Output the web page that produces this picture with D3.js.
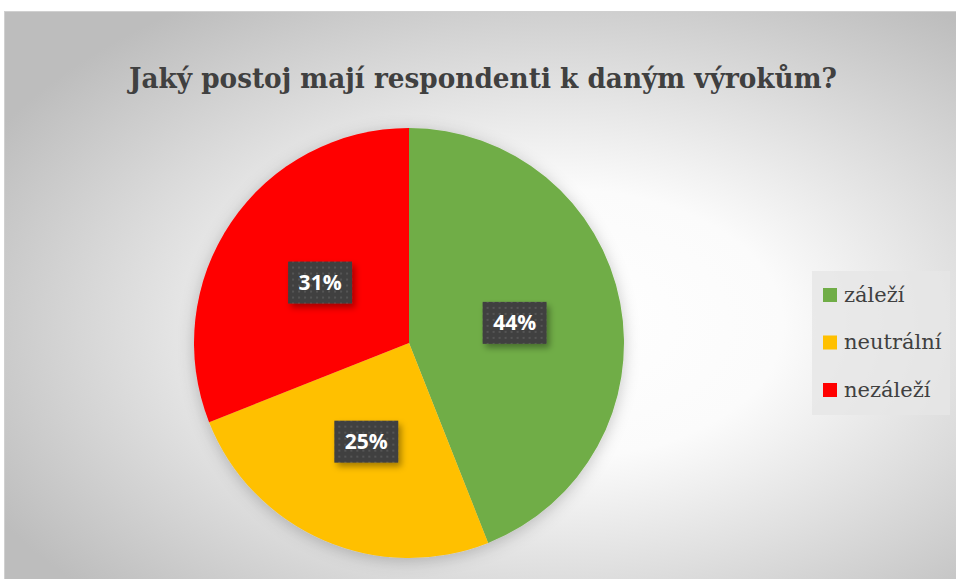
<!DOCTYPE html>
<html>
<head>
<meta charset="utf-8">
<script src="https://cdn.jsdelivr.net/npm/d3@7"></script>
<style>
  body { margin: 0; background: #fff; }
  svg { display: block; }
</style>
</head>
<body>
<div id="chart"></div>
<script>
var categories = ["záleží", "neutrální", "nezáleží"];
var values = [44, 25, 31];
var colors = ["#70ad47", "#ffc000", "#ff0000"];

var width = 956, height = 579;

var svg = d3.select("#chart").append("svg")
    .attr("width", width)
    .attr("height", height);

var defs = svg.append("defs");

var bg = defs.append("radialGradient")
    .attr("id", "bg")
    .attr("cx", "58%").attr("cy", "55%").attr("r", "68%");
bg.append("stop").attr("offset", "0%").attr("stop-color", "#ffffff");
bg.append("stop").attr("offset", "35%").attr("stop-color", "#fbfbfb");
bg.append("stop").attr("offset", "100%").attr("stop-color", "#bdbdbd");

var pat = defs.append("pattern")
    .attr("id", "dots")
    .attr("width", 6).attr("height", 6)
    .attr("patternUnits", "userSpaceOnUse");
pat.append("rect").attr("width", 6).attr("height", 6).attr("fill", "#404040");
pat.append("rect").attr("x", 2).attr("y", 2).attr("width", 2).attr("height", 2).attr("fill", "#555555");

var shadow = defs.append("filter").attr("id", "shadow")
    .attr("x", "-20%").attr("y", "-20%").attr("width", "150%").attr("height", "150%");
shadow.append("feDropShadow")
    .attr("dx", 3).attr("dy", 4).attr("stdDeviation", 3)
    .attr("flood-color", "#000").attr("flood-opacity", 0.35);

var pieShadow = defs.append("filter").attr("id", "pieShadow")
    .attr("x", "-20%").attr("y", "-20%").attr("width", "140%").attr("height", "140%");
pieShadow.append("feDropShadow")
    .attr("dx", 0).attr("dy", 3).attr("stdDeviation", 8)
    .attr("flood-color", "#000").attr("flood-opacity", 0.22);

// chart area
svg.append("rect")
    .attr("x", 4.5).attr("y", 11.5)
    .attr("width", width - 4).attr("height", height - 11)
    .attr("fill", "url(#bg)")
    .attr("stroke", "#d0d0d0");

svg.append("text")
    .attr("x", 483).attr("y", 88)
    .attr("text-anchor", "middle")
    .attr("font-family", "'DejaVu Serif', serif")
    .attr("font-weight", "bold")
    .attr("font-size", 28)
    .attr("textLength", 708)
    .attr("lengthAdjust", "spacingAndGlyphs")
    .attr("fill", "#404040")
    .text("Jaký postoj mají respondenti k daným výrokům?");

var cx = 409, cy = 343, radius = 215;

var pie = d3.pie().sort(null).value(function(d) { return d; });
var arcs = pie(values);
var arc = d3.arc().innerRadius(0).outerRadius(radius);
var labelArc = d3.arc().innerRadius(radius * 0.5).outerRadius(radius * 0.5);

var g = svg.append("g")
    .attr("transform", "translate(" + cx + "," + cy + ")");

g.append("g").attr("filter", "url(#pieShadow)")
  .selectAll("path")
  .data(arcs)
  .enter().append("path")
    .attr("d", arc)
    .attr("fill", function(d, i) { return colors[i]; });

var total = d3.sum(values);
var labels = g.selectAll("g.label")
  .data(arcs)
  .enter().append("g")
    .attr("class", "label")
    .attr("transform", function(d) {
      var c = labelArc.centroid(d);
      return "translate(" + c[0] + "," + c[1] + ")";
    });

labels.append("rect")
    .attr("x", -32).attr("y", -21)
    .attr("width", 64).attr("height", 42)
    .attr("fill", "url(#dots)")
    .attr("filter", "url(#shadow)");

labels.append("text")
    .attr("text-anchor", "middle")
    .attr("dy", "0.36em")
    .attr("font-family", "'Open Sans', sans-serif")
    .attr("font-weight", "bold")
    .attr("font-size", 21)
    .attr("fill", "#ffffff")
    .text(function(d) { return Math.round(d.value / total * 100) + "%"; });

// legend
var legend = svg.append("g").attr("transform", "translate(812,271)");
legend.append("rect")
    .attr("width", 138).attr("height", 144)
    .attr("fill", "#e6e6e6").attr("opacity", 0.8);

var y = d3.scalePoint().domain(categories).range([24, 119]);

var items = legend.selectAll("g.item")
  .data(categories)
  .enter().append("g")
    .attr("class", "item")
    .attr("transform", function(d) { return "translate(0," + y(d) + ")"; });

items.append("rect")
    .attr("x", 11).attr("y", -7)
    .attr("width", 14).attr("height", 14)
    .attr("fill", function(d, i) { return colors[i]; });

items.append("text")
    .attr("x", 32).attr("dy", "0.33em")
    .attr("font-family", "'DejaVu Serif', serif")
    .attr("font-size", 21)
    .attr("fill", "#404040")
    .text(function(d) { return d; });
</script>
</body>
</html>
